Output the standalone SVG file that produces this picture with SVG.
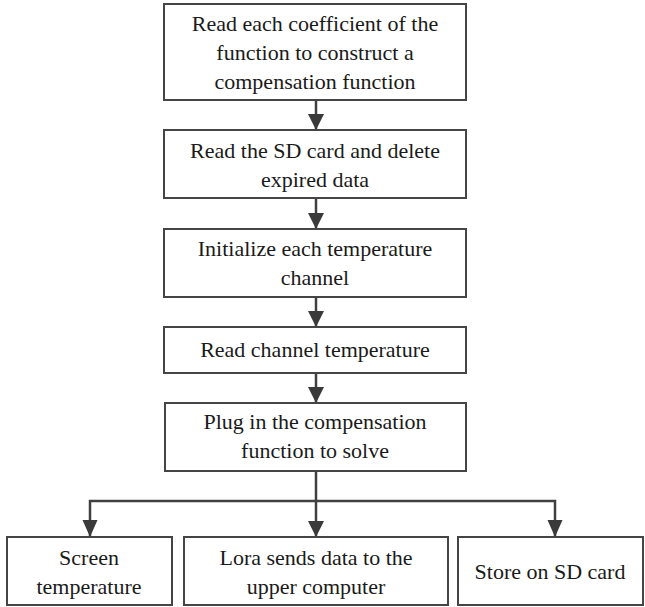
<svg xmlns="http://www.w3.org/2000/svg" width="645" height="607" viewBox="0 0 645 607">
<style>
.box{fill:#fff;stroke:#454545;stroke-width:2}
.t{font-size:22px;fill:#1a1a1a;text-anchor:middle}
.c{fill:none;stroke:#404040;stroke-width:2.5}
</style>
<defs>
<marker id="ah" markerUnits="userSpaceOnUse" markerWidth="16" markerHeight="17" refX="15" refY="8" orient="auto" viewBox="0 0 16 16">
<path d="M0,0 L16,8 L0,16 Z" fill="#3a3a3a"/>
</marker>
</defs>
<rect width="645" height="607" fill="#fff"/>
<g id="connectors">
<line class="c" x1="316" y1="100" x2="316" y2="129" marker-end="url(#ah)"/>
<line class="c" x1="316" y1="198" x2="316" y2="228" marker-end="url(#ah)"/>
<line class="c" x1="316" y1="297" x2="316" y2="326" marker-end="url(#ah)"/>
<line class="c" x1="316" y1="373" x2="316" y2="402" marker-end="url(#ah)"/>
<line class="c" x1="316" y1="471" x2="316" y2="536" marker-end="url(#ah)"/>
<polyline class="c" points="90,536 90,501 555,501 555,536"/>
<path d="M82.5,520 L97.5,520 L90,537 Z M547.5,520 L562.5,520 L555,537 Z" fill="#3a3a3a"/>
</g>
<g font-family="Liberation Serif, DejaVu Serif, Noto Serif, serif">
<g id="n1">
<rect class="box" x="164" y="4" width="302" height="96"/>
<text class="t" x="315" y="31">Read each coefficient of the</text>
<text class="t" x="315" y="60">function to construct a</text>
<text class="t" x="315" y="89">compensation function</text>
</g>
<g id="n2">
<rect class="box" x="164" y="130" width="302" height="68"/>
<text class="t" x="315" y="158">Read the SD card and delete</text>
<text class="t" x="315" y="187">expired data</text>
</g>
<g id="n3">
<rect class="box" x="164" y="229" width="302" height="68"/>
<text class="t" x="315" y="256">Initialize each temperature</text>
<text class="t" x="315" y="285">channel</text>
</g>
<g id="n4">
<rect class="box" x="164" y="327" width="302" height="46"/>
<text class="t" x="315" y="357">Read channel temperature</text>
</g>
<g id="n5">
<rect class="box" x="165" y="403" width="301" height="68"/>
<text class="t" x="315" y="429">Plug in the compensation</text>
<text class="t" x="315" y="458">function to solve</text>
</g>
<g id="n6">
<rect class="box" x="7" y="537" width="165" height="68"/>
<text class="t" x="89" y="565">Screen</text>
<text class="t" x="89" y="594">temperature</text>
</g>
<g id="n7">
<rect class="box" x="184" y="537" width="264" height="68"/>
<text class="t" x="316" y="565">Lora sends data to the</text>
<text class="t" x="316" y="594">upper computer</text>
</g>
<g id="n8">
<rect class="box" x="458" y="537" width="185" height="68"/>
<text class="t" x="550" y="579">Store on SD card</text>
</g>
</g>
</svg>
